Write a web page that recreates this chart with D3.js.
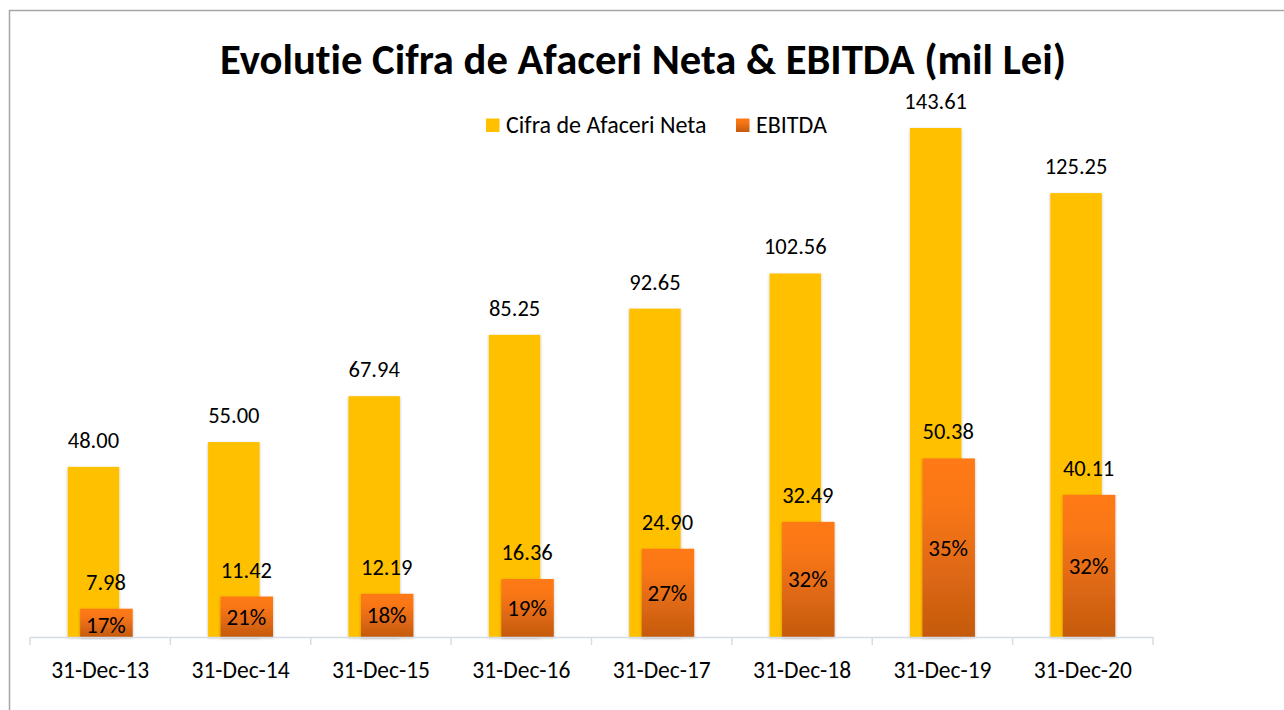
<!DOCTYPE html>
<html>
<head>
<meta charset="utf-8">
<script src="https://cdn.jsdelivr.net/npm/d3@7"></script>
<style>
  html, body { margin: 0; padding: 0; background: #fff; }
  svg { display: block; font-family: Carlito, Lato, "Open Sans", sans-serif; font-variant-ligatures: none; }
</style>
</head>
<body>
<div id="chart"></div>
<script>
// data
const categories = ["31-Dec-13", "31-Dec-14", "31-Dec-15", "31-Dec-16", "31-Dec-17", "31-Dec-18", "31-Dec-19", "31-Dec-20"];
const revenue = [48.00, 55.00, 67.94, 85.25, 92.65, 102.56, 143.61, 125.25];
const ebitda = [7.98, 11.42, 12.19, 16.36, 24.90, 32.49, 50.38, 40.11];
const margin = ["17%", "21%", "18%", "19%", "27%", "32%", "35%", "32%"];
const seriesNames = ["Cifra de Afaceri Neta", "EBITDA"];

const width = 1284, height = 710;
const baseY = 637;
const fs = 22.5;

const svg = d3.select("#chart").append("svg")
  .attr("width", width)
  .attr("height", height);

// gradient for EBITDA bars
const defs = svg.append("defs");
const grad = defs.append("linearGradient")
  .attr("id", "ebitdaGrad")
  .attr("x1", 0).attr("y1", 0).attr("x2", 0).attr("y2", 1);
grad.append("stop").attr("offset", "0%").attr("stop-color", "#FF7A15");
grad.append("stop").attr("offset", "25%").attr("stop-color", "#FA7715");
grad.append("stop").attr("offset", "100%").attr("stop-color", "#C45A10");

const shadow = defs.append("filter").attr("id", "shadow")
  .attr("x", "-20%").attr("y", "-5%").attr("width", "140%").attr("height", "115%");
shadow.append("feDropShadow")
  .attr("dx", 0).attr("dy", 1).attr("stdDeviation", 1.5)
  .attr("flood-color", "#000").attr("flood-opacity", 0.25);

// outer border
svg.append("rect")
  .attr("x", 9.5).attr("y", 10.5)
  .attr("width", width + 20).attr("height", height + 20)
  .attr("fill", "none")
  .attr("stroke", "#a6a6a6")
  .attr("stroke-width", 1.5);

const x = d3.scaleBand()
  .domain(categories)
  .range([30, 1153]);

const y = d3.scaleLinear()
  .domain([0, 143.61])
  .range([baseY, 128]);

const barW = 51.5;

// ---------- BARS ----------
const g = svg.append("g");

g.selectAll("rect.rev")
  .data(revenue)
  .enter()
  .append("rect")
  .attr("class", "rev")
  .attr("x", (d, i) => x(categories[i]) + x.bandwidth() / 2 - 32.5)
  .attr("y", d => y(d))
  .attr("width", barW)
  .attr("height", d => baseY - y(d))
  .attr("fill", "#FFC000")
  .attr("filter", "url(#shadow)");

g.selectAll("rect.ebitda")
  .data(ebitda)
  .enter()
  .append("rect")
  .attr("class", "ebitda")
  .attr("x", (d, i) => x(categories[i]) + x.bandwidth() / 2 - 20)
  .attr("y", d => y(d))
  .attr("width", barW + 1)
  .attr("height", d => baseY - y(d))
  .attr("fill", "url(#ebitdaGrad)")
  .attr("filter", "url(#shadow)");

// ---------- AXIS ----------
const axis = svg.append("g")
  .attr("transform", `translate(0,${baseY})`)
  .call(d3.axisBottom(x).tickSize(0).tickPadding(0));
axis.select(".domain").attr("stroke", "#d6dce5").attr("stroke-width", 1.5);
axis.selectAll(".tick text").remove();

// boundary tick marks between categories
const bounds = categories.map(c => x(c)).concat([x.range()[1]]);
axis.selectAll("line.bound")
  .data(bounds)
  .enter()
  .append("line")
  .attr("class", "bound")
  .attr("x1", d => d).attr("x2", d => d)
  .attr("y1", 0).attr("y2", 8)
  .attr("stroke", "#d6dce5")
  .attr("stroke-width", 1.5);

svg.selectAll("text.cat")
  .data(categories)
  .enter()
  .append("text")
  .attr("class", "cat")
  .attr("x", d => x(d) + x.bandwidth() / 2)
  .attr("y", 678)
  .attr("text-anchor", "middle")
  .attr("font-size", 23.5)
  .attr("fill", "#000")
  .text(d => d);

// ---------- LABELS ----------
const fmt = d3.format(".2f");

svg.selectAll("text.revLbl")
  .data(revenue)
  .enter()
  .append("text")
  .attr("class", "revLbl")
  .attr("x", (d, i) => x(categories[i]) + x.bandwidth() / 2 - 32.5 + barW / 2)
  .attr("y", d => y(d) - 19)
  .attr("text-anchor", "middle")
  .attr("font-size", fs)
  .attr("fill", "#000")
  .text(d => fmt(d));

svg.selectAll("text.ebLbl")
  .data(ebitda)
  .enter()
  .append("text")
  .attr("class", "ebLbl")
  .attr("x", (d, i) => x(categories[i]) + x.bandwidth() / 2 - 20 + barW / 2)
  .attr("y", d => y(d) - 19)
  .attr("text-anchor", "middle")
  .attr("font-size", fs)
  .attr("fill", "#000")
  .text(d => fmt(d));

svg.selectAll("text.pct")
  .data(ebitda)
  .enter()
  .append("text")
  .attr("class", "pct")
  .attr("x", (d, i) => x(categories[i]) + x.bandwidth() / 2 - 20 + barW / 2)
  .attr("y", d => Math.max((y(d) + baseY) / 2 + 8, y(d) + 24))
  .attr("text-anchor", "middle")
  .attr("font-size", 23)
  .attr("fill", "#000")
  .text((d, i) => margin[i]);

// ---------- TITLE ----------
const title = svg.append("text")
  .attr("x", 643)
  .attr("y", 74)
  .attr("text-anchor", "middle")
  .attr("font-size", 36)
  .attr("font-weight", "bold")
  .attr("fill", "#000")
  .text("Evolutie Cifra de Afaceri Neta & EBITDA (mil Lei)");
const tw = title.node().getComputedTextLength();
title.attr("font-size", 36 * 846 / tw);

// ---------- LEGEND ----------
const legendItems = [
  { name: seriesNames[0], fill: "#FFC000", sx: 486, tx: 506 },
  { name: seriesNames[1], fill: "url(#ebitdaGrad)", sx: 736, tx: 756 }
];
const leg = svg.append("g");
legendItems.forEach(it => {
  leg.append("rect")
    .attr("x", it.sx).attr("y", 118.5)
    .attr("width", 13.5).attr("height", 13.5)
    .attr("fill", it.fill);
  leg.append("text")
    .attr("x", it.tx).attr("y", 133)
    .attr("font-size", 24)
    .attr("fill", "#000")
    .text(it.name);
});
</script>
</body>
</html>
